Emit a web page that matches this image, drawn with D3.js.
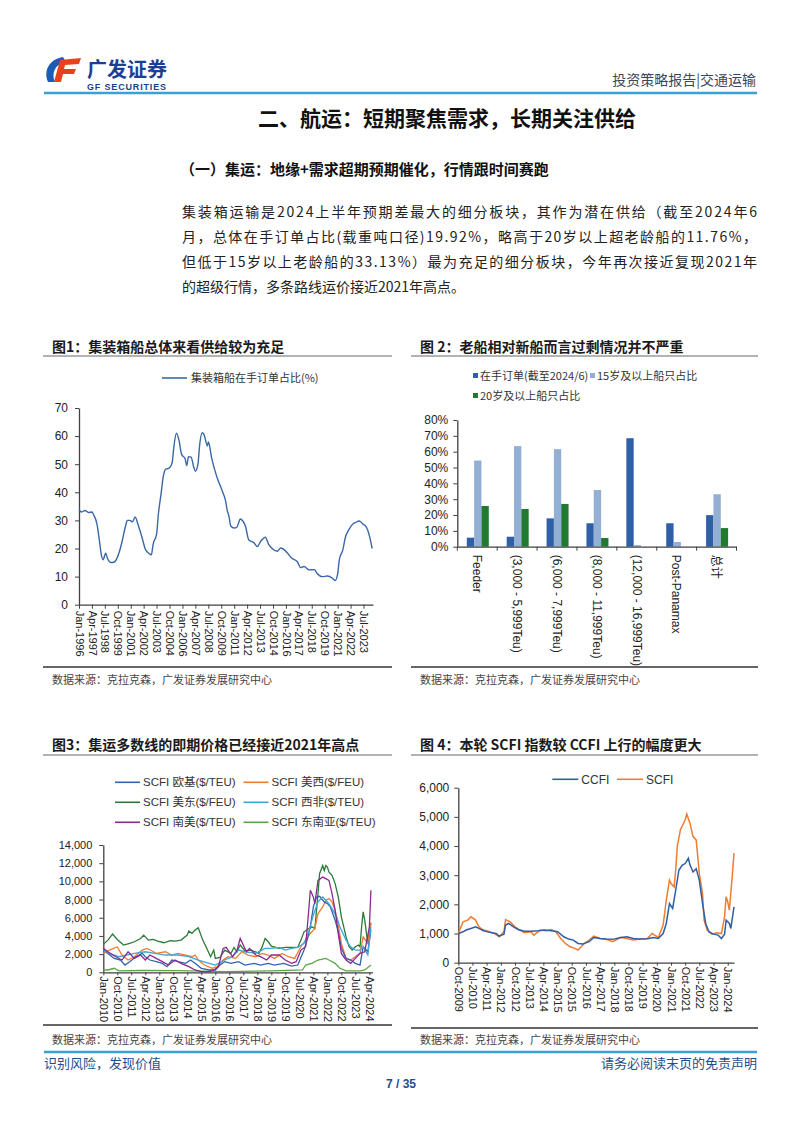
<!DOCTYPE html>
<html><head><meta charset="utf-8">
<script src="https://cdn.jsdelivr.net/npm/d3@7"></script>
<style>
body{margin:0;background:#fff}
svg{display:block}
text{font-family:"Liberation Sans",Arial,"Noto Sans CJK SC",sans-serif}
</style></head><body>
<svg id="page" width="802" height="1133"></svg>
<script>
// ---------------- DATA ----------------
const c1YTicks = [0,10,20,30,40,50,60,70];
const c1XTicks = ["Jan-1996","Apr-1997","Jul-1998","Oct-1999","Jan-2001","Apr-2002","Jul-2003","Oct-2004","Jan-2006","Apr-2007","Jul-2008","Oct-2009","Jan-2011","Apr-2012","Jul-2013","Oct-2014","Jan-2016","Apr-2017","Jul-2018","Oct-2019","Jan-2021","Apr-2022","Jul-2023"];
const c1Series = [["1996-01",33.8],["1996-04",33],["1996-08",33.5],["1996-12",32.8],["1997-04",33],["1997-06",32],["1997-10",28.5],["1998-01",22],["1998-03",17.7],["1998-05",16],["1998-08",18.3],["1998-10",16.5],["1999-02",15],["1999-06",15.2],["1999-09",16.5],["1999-12",19],["2000-03",22.5],["2000-07",28],["2000-09",30],["2000-12",30],["2001-03",29.5],["2001-06",31.2],["2001-10",28],["2002-02",24],["2002-06",19.7],["2002-10",18.3],["2003-01",17.8],["2003-03",21.5],["2003-07",25],["2003-09",32],["2003-12",39],["2004-03",46],["2004-06",48.3],["2004-09",48.5],["2005-01",50.5],["2005-03",56],["2005-06",61],["2005-09",58.5],["2005-12",53.5],["2006-04",52],["2006-06",49.5],["2006-08",52.7],["2006-11",52.5],["2007-02",49],["2007-04",47.5],["2007-07",50],["2007-09",57],["2007-12",61.2],["2008-02",60.5],["2008-06",56.5],["2008-07",58],["2008-11",52],["2009-05",45.4],["2009-11",40.6],["2010-03",37],["2010-05",33.5],["2010-07",31.4],["2010-09",28],["2011-01",27.3],["2011-04",27.5],["2011-06",29],["2011-08",30.5],["2011-11",29.8],["2012-02",28],["2012-06",23],["2012-12",22],["2013-04",20.7],["2013-07",22.2],["2013-09",23],["2014-01",24],["2014-05",21.5],["2014-09",20],["2015-03",19],["2015-07",20.2],["2015-11",19.6],["2016-03",18.3],["2016-08",16.5],["2017-02",15.4],["2017-06",13.2],["2017-10",13.6],["2018-04",12.4],["2018-10",12.5],["2019-01",11.2],["2019-07",10],["2020-01",10.2],["2020-07",9.4],["2020-10",8.6],["2021-01",11],["2021-03",16],["2021-07",19.5],["2021-10",24],["2022-02",26.7],["2022-06",28.5],["2022-10",29.3],["2023-02",29.8],["2023-06",28.8],["2023-10",27.8],["2024-02",24.3],["2024-05",20]];

const c2Cats = ["Feeder","(3,000 - 5,999Teu)","(6,000 - 7,999Teu)","(8,000 - 11,999Teu)","(12,000 - 16,999Teu)","Post-Panamax","总计"];
const c2SeriesNames = ["在手订单(截至2024/6)","15岁及以上船只占比","20岁及以上船只占比"];
const c2Orderbook = [5.7,6.3,17.9,14.8,68.5,14.8,19.92];
const c2Over15 = [54.4,63.5,61.6,35.8,1.0,3.0,33.13];
const c2Over20 = [25.7,23.8,27.0,5.5,0,0,11.76];
const c2YTicks = [0,10,20,30,40,50,60,70,80];

const c3YTicks = [0,2000,4000,6000,8000,10000,12000,14000];
const c3XTicks = ["Jan-2010","Oct-2010","Jul-2011","Apr-2012","Jan-2013","Oct-2013","Jul-2014","Apr-2015","Jan-2016","Oct-2016","Jul-2017","Apr-2018","Jan-2019","Oct-2019","Jul-2020","Apr-2021","Jan-2022","Oct-2022","Jul-2023","Apr-2024"];
const c3Names = ["SCFI 欧基($/TEU)","SCFI 美西($/FEU)","SCFI 美东($/FEU)","SCFI 西非($/TEU)","SCFI 南美($/TEU)","SCFI 东南亚($/TEU)"];
const c3SEAsia = [["2010-01",255],["2010-04",255],["2010-08",440],["2010-11",150],["2012-01",200],["2014-01",180],["2016-07",75],["2019-01",150],["2020-09",255],["2020-11",800],["2021-03",985],["2021-07",1350],["2021-12",1530],["2022-02",1350],["2022-06",985],["2022-09",440],["2023-01",150],["2023-10",150],["2024-01",255],["2024-05",800]];
const c3USEast = [["2010-01",3070],["2010-04",3540],["2010-07",4200],["2010-10",3610],["2011-02",3000],["2011-06",3175],["2011-09",3360],["2012-01",3720],["2012-03",4090],["2012-06",3540],["2012-09",3610],["2012-12",3430],["2013-04",3250],["2013-08",3470],["2013-11",3430],["2014-03",3540],["2014-07",4090],["2014-08",4530],["2014-10",4270],["2014-12",4640],["2015-02",4890],["2015-03",4450],["2015-05",3540],["2015-08",2445],["2015-10",1715],["2015-12",2445],["2016-01",1530],["2016-04",1640],["2016-07",2445],["2016-11",2080],["2017-01",2740],["2017-03",2260],["2017-05",3000],["2017-08",2370],["2017-12",2445],["2018-05",2080],["2018-07",2740],["2018-09",3720],["2018-11",3360],["2019-01",2880],["2019-06",2630],["2019-10",2740],["2020-02",2740],["2020-06",2740],["2020-08",3540],["2020-10",4450],["2021-01",4820],["2021-03",5000],["2021-05",4820],["2021-07",8650],["2021-08",10840],["2021-10",11750],["2021-11",11200],["2021-12",11750],["2022-01",11570],["2022-02",11020],["2022-04",10660],["2022-06",9750],["2022-08",8285],["2022-10",6100],["2023-01",3900],["2023-03",2810],["2023-05",2450],["2023-07",2810],["2023-09",3000],["2023-10",2800],["2023-11",5000],["2023-12",6640],["2024-01",5730],["2024-03",3175],["2024-05",5365]];
const c3USWest = [["2010-01",2080],["2010-05",2445],["2010-10",2810],["2011-01",1900],["2011-05",1350],["2011-09",1715],["2012-02",2445],["2012-05",2630],["2012-08",2370],["2012-11",2080],["2013-05",2260],["2013-09",1900],["2014-01",2080],["2014-06",1900],["2014-10",1715],["2014-12",1900],["2015-02",1350],["2015-06",800],["2015-11",440],["2016-02",620],["2016-06",1350],["2016-09",1715],["2017-02",1530],["2017-06",2260],["2017-10",1900],["2018-03",1715],["2018-07",2080],["2018-11",1900],["2019-03",1530],["2019-08",2080],["2019-12",1715],["2020-04",1530],["2020-08",2810],["2020-11",3540],["2021-02",4270],["2021-05",4820],["2021-07",6460],["2021-10",7190],["2021-12",7920],["2022-02",8100],["2022-04",7740],["2022-06",6830],["2022-08",5180],["2022-10",3175],["2023-01",1530],["2023-04",1350],["2023-07",1715],["2023-10",2080],["2023-12",3900],["2024-03",3175],["2024-05",5500]];
const c3Europe = [["2010-01",2445],["2010-04",2080],["2010-08",1530],["2010-12",1350],["2011-03",800],["2011-06",1170],["2011-10",1715],["2012-02",2080],["2012-04",1715],["2012-07",1350],["2012-11",1170],["2013-03",985],["2013-06",620],["2013-09",1350],["2014-01",1170],["2014-06",985],["2014-09",1350],["2014-12",985],["2015-04",440],["2015-09",255],["2016-01",255],["2016-04",800],["2016-07",1170],["2016-11",985],["2017-04",1170],["2017-08",800],["2018-02",985],["2018-06",800],["2018-11",985],["2019-03",800],["2019-09",985],["2020-02",690],["2020-06",800],["2020-10",2445],["2020-12",3540],["2021-02",5000],["2021-04",7190],["2021-06",8285],["2021-08",8360],["2021-11",7740],["2022-01",7555],["2022-03",7190],["2022-06",5730],["2022-08",4450],["2022-10",2630],["2023-01",1530],["2023-04",1350],["2023-07",985],["2023-10",800],["2023-12",2810],["2024-03",2260],["2024-05",4640]];
const c3WAfrica = [["2010-01",2445],["2010-05",2080],["2010-11",1715],["2011-04",1900],["2011-09",2080],["2012-04",2260],["2012-10",2080],["2013-05",1900],["2014-01",1900],["2014-08",1715],["2015-02",1350],["2015-09",985],["2016-01",800],["2016-07",1350],["2016-12",1715],["2017-04",2445],["2017-08",2260],["2018-03",2080],["2018-09",2630],["2019-01",2630],["2019-06",2740],["2019-10",2445],["2020-02",2630],["2020-06",2740],["2020-10",3175],["2021-01",4450],["2021-04",6280],["2021-07",7740],["2021-10",8285],["2021-12",7920],["2022-02",7555],["2022-04",7010],["2022-07",6100],["2022-09",5000],["2023-01",3540],["2023-04",2810],["2023-07",2445],["2023-10",2445],["2023-12",2810],["2024-03",1900],["2024-05",5000]];
const c3SAmerica = [["2010-01",2630],["2010-04",2260],["2010-09",1715],["2011-01",1350],["2011-05",2260],["2011-09",1530],["2012-01",1900],["2012-04",1350],["2012-07",1900],["2012-11",1530],["2013-03",1170],["2013-07",800],["2013-11",1350],["2014-03",985],["2014-08",620],["2014-12",255],["2015-04",75],["2015-09",75],["2015-12",255],["2016-03",620],["2016-06",2630],["2016-08",2740],["2016-12",1715],["2017-03",2445],["2017-05",3720],["2017-07",3000],["2017-09",2260],["2017-11",2630],["2018-03",1900],["2018-06",1715],["2018-10",1350],["2019-01",1900],["2019-06",1900],["2019-10",1350],["2020-02",985],["2020-05",1170],["2020-08",2445],["2020-11",2810],["2021-01",6830],["2021-02",9020],["2021-04",8285],["2021-05",7555],["2021-07",10110],["2021-10",10475],["2021-12",10300],["2022-02",10110],["2022-04",8650],["2022-06",6830],["2022-08",4270],["2022-10",2080],["2023-01",1350],["2023-04",985],["2023-07",1530],["2023-10",2080],["2024-01",2260],["2024-04",5000],["2024-05",9020]];

const c4YTicks = [0,1000,2000,3000,4000,5000,6000];
const c4XTicks = ["Oct-2009","Jul-2010","Apr-2011","Jan-2012","Oct-2012","Jul-2013","Apr-2014","Jan-2015","Oct-2015","Jul-2016","Apr-2017","Jan-2018","Oct-2018","Jul-2019","Apr-2020","Jan-2021","Oct-2021","Jul-2022","Apr-2023","Jan-2024"];
const c4Names = ["CCFI","SCFI"];
const c4CCFI = [["2009-10",1000],["2010-01",1060],["2010-03",1120],["2010-06",1175],["2010-09",1230],["2010-11",1175],["2011-02",1095],["2011-06",1040],["2011-10",1000],["2011-12",910],["2012-03",980],["2012-04",1290],["2012-06",1345],["2012-09",1230],["2012-12",1140],["2013-04",1080],["2013-08",1080],["2014-01",1095],["2014-05",1120],["2014-09",1095],["2015-01",1060],["2015-05",890],["2015-08",810],["2015-11",775],["2016-02",660],["2016-05",640],["2016-09",720],["2016-12",865],["2017-04",830],["2017-08",810],["2017-12",800],["2018-05",865],["2018-09",890],["2019-01",830],["2019-05",810],["2019-10",820],["2020-02",865],["2020-05",830],["2020-08",1000],["2020-10",1345],["2020-12",2030],["2021-02",1860],["2021-04",2485],["2021-06",3170],["2021-08",3340],["2021-10",3400],["2021-12",3580],["2022-01",3355],["2022-03",3110],["2022-05",3225],["2022-07",2830],["2022-09",2030],["2022-11",1345],["2023-01",1060],["2023-04",980],["2023-07",945],["2023-09",830],["2023-11",980],["2023-12",1460],["2024-02",1345],["2024-03",1175],["2024-05",1915]];
const c4SCFI = [["2009-10",1000],["2010-01",1400],["2010-04",1460],["2010-06",1575],["2010-09",1460],["2010-11",1230],["2011-02",1120],["2011-06",1060],["2011-09",1000],["2011-12",890],["2012-03",1060],["2012-04",1480],["2012-07",1400],["2012-10",1230],["2013-01",1120],["2013-04",1025],["2013-08",1060],["2013-10",945],["2014-02",1120],["2014-06",1095],["2014-09",1140],["2014-12",1060],["2015-03",830],["2015-06",660],["2015-09",545],["2015-12",490],["2016-02",435],["2016-04",545],["2016-06",660],["2016-09",775],["2016-12",910],["2017-04",830],["2017-08",800],["2017-12",720],["2018-05",865],["2018-09",830],["2019-01",775],["2019-05",800],["2019-10",830],["2020-01",1000],["2020-05",865],["2020-08",1290],["2020-10",2145],["2020-12",2830],["2021-01",2715],["2021-03",2600],["2021-04",3180],["2021-05",3985],["2021-07",4555],["2021-08",4670],["2021-10",4900],["2021-11",5100],["2022-01",4785],["2022-03",4325],["2022-05",4210],["2022-06",3640],["2022-07",3055],["2022-09",2370],["2022-10",1460],["2022-12",1120],["2023-03",980],["2023-06",1025],["2023-09",1000],["2023-11",1575],["2023-12",2260],["2024-01",2085],["2024-02",1800],["2024-04",3055],["2024-05",3755]];

// ---------------- PAGE ----------------
const svg = d3.select("#page");
const parseM = d3.timeParse("%Y-%m");
const parseT = d3.timeParse("%b-%Y");
const CJK = '"Noto Sans CJK SC","Liberation Sans",sans-serif';
const AX = "#404040";

// header logo
const logo = svg.append("g");
logo.append("path").attr("d","M63,57 C50,59 43,70 48,82 L55,82 C51,73 55,64 66,62 Z").attr("fill","#1b5cb8");
logo.append("path").attr("d","M60,60 L81,58 L79,64 L65,65 L64,69 L76,69 L74,74 L63,74 L61,82 L54,82 Z").attr("fill","#e8421c");
logo.append("text").attr("x",87).attr("y",77).attr("font-size",20).attr("font-weight",700).attr("fill","#1c3f94").style("font-family",CJK).text("广发证券");
logo.append("text").attr("x",87).attr("y",89.5).attr("font-size",9).attr("font-weight",700).attr("fill","#1c3f94").attr("textLength",79).text("GF SECURITIES");
svg.append("text").attr("x",756).attr("y",85).attr("text-anchor","end").attr("font-size",14).attr("fill","#3a4660").style("font-family",CJK).text("投资策略报告|交通运输");
svg.append("line").attr("x1",44).attr("x2",757).attr("y1",93).attr("y2",93).attr("stroke","#3d9fd3").attr("stroke-width",2.5);

// titles & paragraph
svg.append("text").attr("x",258).attr("y",126).attr("font-size",21).attr("font-weight",700).attr("fill","#111").style("font-family",CJK).text("二、航运：短期聚焦需求，长期关注供给");
svg.append("text").attr("x",180).attr("y",175).attr("font-size",15).attr("font-weight",700).attr("fill","#111").style("font-family",CJK).text("（一）集运：地缘+需求超期预期催化，行情跟时间赛跑");
const para = ["集装箱运输是2024上半年预期差最大的细分板块，其作为潜在供给（截至2024年6",
"月，总体在手订单占比(载重吨口径)19.92%，略高于20岁以上超老龄船的11.76%，",
"但低于15岁以上老龄船的33.13%）最为充足的细分板块，今年再次接近复现2021年",
"的超级行情，多条路线运价接近2021年高点。"];
para.forEach((t,i)=>{
  const el = svg.append("text").attr("x",182).attr("y",217+i*25).attr("font-size",14).attr("fill","#222").style("font-family",CJK).text(t);
  if(i<3) el.attr("textLength",575).attr("lengthAdjust","spacing");
});

// footer
svg.append("line").attr("x1",44).attr("x2",757).attr("y1",1052).attr("y2",1052).attr("stroke","#3d9fd3").attr("stroke-width",2.5);
svg.append("text").attr("x",44).attr("y",1068).attr("font-size",13).attr("fill","#1f4e8c").style("font-family",CJK).text("识别风险，发现价值");
svg.append("text").attr("x",757).attr("y",1068).attr("text-anchor","end").attr("font-size",13).attr("fill","#1f4e8c").style("font-family",CJK).text("请务必阅读末页的免责声明");
svg.append("text").attr("x",401).attr("y",1088).attr("text-anchor","middle").attr("font-size",12).attr("font-weight",700).attr("fill","#1f4e8c").text("7 / 35");

// chart frames
function frame(x1,x2,title,ty,ruleTop,ruleBot,srcY){
  svg.append("text").attr("x",x1+9).attr("y",ty).attr("font-size",14).attr("font-weight",700).attr("fill","#1a1a1a").style("font-family",CJK).text(title);
  svg.append("line").attr("x1",x1).attr("x2",x2).attr("y1",ruleTop).attr("y2",ruleTop).attr("stroke","#9a9a9a").attr("stroke-width",1.5);
  svg.append("line").attr("x1",x1).attr("x2",x2).attr("y1",ruleBot).attr("y2",ruleBot).attr("stroke","#333").attr("stroke-width",1.5);
  svg.append("text").attr("x",x1+9).attr("y",srcY).attr("font-size",11).attr("fill","#444").style("font-family",CJK).text("数据来源：克拉克森，广发证券发展研究中心");
}
frame(43,392,"图1：集装箱船总体来看供给较为充足",352,356,667,684);
frame(411,758,"图 2：老船相对新船而言过剩情况并不严重",352,356,667,684);
frame(43,392,"图3：集运多数线的即期价格已经接近2021年高点",750,755,1025,1044);
frame(411,758,"图 4：本轮 SCFI 指数较 CCFI 上行的幅度更大",750,755,1028,1044);

function styleAxis(g){
  g.selectAll(".domain").attr("stroke",AX).attr("stroke-width",1.3);
  g.selectAll(".tick line").attr("stroke",AX);
  g.selectAll(".tick text").attr("fill","#222").attr("font-size",11).style("font-family",'"Liberation Sans",Arial,"Noto Sans CJK SC",sans-serif');
}
function rotateX(g,pad){
  g.selectAll(".tick text").attr("transform","rotate(90)").attr("y",0).attr("x",pad).attr("dy","0.35em").style("text-anchor","start");
}

// ---------- Chart 1 ----------
{
  const x = d3.scaleTime().domain([parseM("1996-01"),parseM("2024-06")]).range([79,373]);
  const y = d3.scaleLinear().domain([0,70]).range([604.7,408]);
  const gy = svg.append("g").attr("transform","translate(79,0)").call(d3.axisLeft(y).tickValues(c1YTicks).tickSize(4).tickSizeOuter(0).tickPadding(7));
  styleAxis(gy); gy.selectAll(".tick text").attr("font-size",12);
  const gx = svg.append("g").attr("transform","translate(0,604.7)").call(d3.axisBottom(x).tickValues(c1XTicks.map(parseT)).tickFormat(d3.timeFormat("%b-%Y")).tickSize(4).tickSizeOuter(0));
  styleAxis(gx); rotateX(gx,6);
  svg.append("path").datum(c1Series).attr("fill","none").attr("stroke","#3a67a8").attr("stroke-width",1.4)
    .attr("d",d3.line().x(d=>x(parseM(d[0]))).y(d=>y(d[1])).curve(d3.curveMonotoneX));
  svg.append("line").attr("x1",162).attr("x2",187).attr("y1",378).attr("y2",378).attr("stroke","#3a67a8").attr("stroke-width",1.6);
  svg.append("text").attr("x",191).attr("y",382).attr("font-size",11).attr("fill","#333").style("font-family",CJK).text("集装箱船在手订单占比(%)");
}

// ---------- Chart 2 ----------
{
  const colors = ["#2f5fa6","#93afd4","#217a2f"];
  const vals = [c2Orderbook,c2Over15,c2Over20];
  const x0 = d3.scaleBand().domain(c2Cats).range([457.3,736.5]).padding(0);
  const x1 = d3.scaleBand().domain([0,1,2]).range([9.5,31.5]).padding(0);
  const y = d3.scaleLinear().domain([0,80]).range([546.7,420]);
  const gy = svg.append("g").attr("transform","translate(457.3,0)").call(d3.axisLeft(y).tickValues(c2YTicks).tickFormat(d=>d+"%").tickSize(4).tickSizeOuter(0).tickPadding(5));
  styleAxis(gy); gy.selectAll(".tick text").attr("font-size",12);
  c2Cats.forEach((c,i)=>{
    vals.forEach((arr,j)=>{
      svg.append("rect").attr("x",x0(c)+x1(j)).attr("width",x1.bandwidth()).attr("y",y(arr[i])).attr("height",y(0)-y(arr[i])).attr("fill",colors[j]);
    });
  });
  const gx = svg.append("g").attr("transform","translate(0,546.7)").call(d3.axisBottom(x0).tickSize(0).tickSizeOuter(0));
  styleAxis(gx);
  gx.selectAll(".tick text").attr("transform","rotate(90)").attr("y",0).attr("x",8).attr("dy","0.35em").style("text-anchor","start").attr("font-size",12)
    .style("font-family",'"Liberation Sans",Arial,"Noto Sans CJK SC",sans-serif');
  const bounds = c2Cats.map(c=>x0(c)).concat([x0.range()[1]]);
  gx.selectAll(".bt").data(bounds).enter().append("line").attr("x1",d=>d).attr("x2",d=>d).attr("y1",0).attr("y2",4).attr("stroke",AX);
  // legend
  const lg = [[473,376,0],[590,376,1],[473,396,2]];
  lg.forEach(([lx,ly,j])=>{
    svg.append("rect").attr("x",lx).attr("y",ly-3).attr("width",5).attr("height",5).attr("fill",colors[j]);
    svg.append("text").attr("x",lx+7).attr("y",ly+4).attr("font-size",11).attr("fill","#333").style("font-family",CJK).text(c2SeriesNames[j]);
  });
}

// ---------- Chart 3 ----------
{
  const colors = ["#2f64b0","#ee7d31","#2c7a37","#3fa6d6","#8a2a8f","#5aa646"];
  const series = [c3Europe,c3USWest,c3USEast,c3WAfrica,c3SAmerica,c3SEAsia];
  const x = d3.scaleTime().domain([parseM("2010-01"),parseM("2024-06")]).range([103.3,372.5]);
  const y = d3.scaleLinear().domain([0,14000]).range([972.3,845]);
  const gy = svg.append("g").attr("transform","translate(103.3,0)").call(d3.axisLeft(y).tickValues(c3YTicks).tickFormat(d3.format(",")).tickSize(4).tickSizeOuter(0).tickPadding(7));
  styleAxis(gy);
  const gx = svg.append("g").attr("transform","translate(0,972.3)").call(d3.axisBottom(x).tickValues(c3XTicks.map(parseT)).tickFormat(d3.timeFormat("%b-%Y")).tickSize(3).tickSizeOuter(0));
  styleAxis(gx); rotateX(gx,4);
  const line = d3.line().x(d=>x(parseM(d[0]))).y(d=>y(d[1]));
  const order = [5,2,1,0,3,4];
  order.forEach(i=>{
    svg.append("path").datum(series[i]).attr("fill","none").attr("stroke",colors[i]).attr("stroke-width",1.3).attr("d",line);
  });
  c3Names.forEach((n,i)=>{
    const col = i%2, row = Math.floor(i/2);
    const lx = col===0?115:243.5, ly = 782.3+row*20;
    svg.append("line").attr("x1",lx).attr("x2",lx+25).attr("y1",ly).attr("y2",ly).attr("stroke",colors[i]).attr("stroke-width",1.6);
    svg.append("text").attr("x",lx+28).attr("y",ly+4).attr("font-size",11.5).attr("fill","#333").style("font-family",'"Liberation Sans","Noto Sans CJK SC",sans-serif').text(n);
  });
}

// ---------- Chart 4 ----------
{
  const colors = ["#2f5fa6","#ee7d31"];
  const series = [c4CCFI,c4SCFI];
  const x = d3.scaleTime().domain([parseM("2009-10"),parseM("2024-05")]).range([458.3,734]);
  const y = d3.scaleLinear().domain([0,6000]).range([962.7,787.7]);
  const gy = svg.append("g").attr("transform","translate(458.3,0)").call(d3.axisLeft(y).tickValues(c4YTicks).tickFormat(d3.format(",")).tickSize(4).tickSizeOuter(0).tickPadding(5));
  styleAxis(gy); gy.selectAll(".tick text").attr("font-size",12);
  const gx = svg.append("g").attr("transform","translate(0,962.7)").call(d3.axisBottom(x).tickValues(c4XTicks.map(parseT)).tickFormat(d3.timeFormat("%b-%Y")).tickSize(3).tickSizeOuter(0));
  styleAxis(gx); rotateX(gx,4);
  const line = d3.line().x(d=>x(parseM(d[0]))).y(d=>y(d[1]));
  [1,0].forEach(i=>{
    svg.append("path").datum(series[i]).attr("fill","none").attr("stroke",colors[i]).attr("stroke-width",1.5).attr("d",line);
  });
  const lx = [552.3,617];
  c4Names.forEach((n,i)=>{
    svg.append("line").attr("x1",lx[i]).attr("x2",lx[i]+26).attr("y1",779.3).attr("y2",779.3).attr("stroke",colors[i]).attr("stroke-width",1.6);
    svg.append("text").attr("x",lx[i]+29).attr("y",783.5).attr("font-size",12).attr("fill","#333").text(n);
  });
}
</script>
</body></html>
